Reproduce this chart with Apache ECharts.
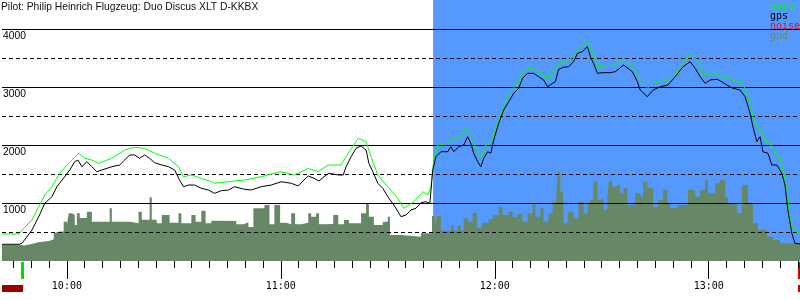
<!DOCTYPE html>
<html><head><meta charset="utf-8">
<script src="https://cdn.jsdelivr.net/npm/echarts@6/dist/echarts.min.js"></script>
<style>html,body{margin:0;padding:0;background:#fff}#c{width:800px;height:300px}</style>
</head><body><div id="c"></div><script>
// time values are minutes after midnight, altitudes in metres
const titleText = 'Pilot: Philip Heinrich Flugzeug: Duo Discus XLT D-KKBX';
const seriesNames = ['baro', 'gps', 'noise', 'gnd'];

const gpsTime = [581.8,586.6,587.4,590.2,592.1,593.8,595.8,597.2,599.1,600.8,602.2,603.1,604.2,605.6,607.0,608.4,609.8,612.6,614.8,616.2,617.6,619.0,620.4,621.8,623.2,624.6,626.6,628.5,630.2,631.6,632.7,634.1,635.8,637.7,639.7,641.4,643.3,645.3,647.0,649.8,651.7,654.5,657.3,660.1,662.9,664.9,666.5,667.7,669.3,670.7,672.1,673.5,676.1,677.5,678.3,679.7,681.1,682.5,683.9,684.7,685.8,687.2,688.6,690.0,691.7,693.7,695.1,696.5,697.9,699.3,700.7,701.8,702.6,703.5,704.9,706.8,707.7,708.5,709.9,711.3,712.4,713.3,714.1,715.2,716.1,716.9,718.0,718.9,719.7,721.1,722.5,723.9,725.3,726.7,727.8,729.2,730.9,732.3,733.7,734.8,736.2,737.0,737.9,739.3,740.7,742.1,743.2,744.6,745.4,746.0,746.8,747.7,748.8,750.2,752.4,753.8,756.1,758.6,760.0,760.8,762.8,764.4,766.4,768.6,770.6,772.8,774.8,776.2,777.6,779.0,780.4,782.3,783.7,785.1,786.8,788.8,790.2,791.6,792.4,793.5,794.4,795.2,796.6,797.7,799.1,800.5,801.4,802.2,803.3,804.2,805.6];
const gpsAlt = [288,288,305,534,764,995,1109,1281,1431,1569,1712,1741,1626,1712,1626,1540,1569,1626,1655,1741,1828,1828,1771,1828,1771,1695,1655,1626,1569,1397,1281,1310,1310,1253,1224,1167,1212,1224,1281,1236,1224,1281,1310,1367,1340,1293,1397,1466,1426,1379,1453,1512,1483,1483,1626,1798,1943,1983,1914,1684,1540,1340,1253,1109,966,764,793,879,909,1005,1022,995,1569,1798,1884,1884,1971,1884,1971,2000,2143,2029,1857,1712,1626,1771,1884,1857,2086,2374,2603,2747,2891,2978,3150,3236,3236,3178,3121,3005,3064,3091,3305,3340,3350,3436,3581,3609,3667,3695,3522,3409,3236,3247,3247,3264,3379,3264,3091,2948,2833,2948,3005,3034,3178,3350,3436,3322,3178,3064,3121,3133,3091,3034,2978,2948,2833,2547,2316,2057,2143,1884,1857,1655,1655,1512,1310,879,478,305,293];

const baroTime = [581.8,586.6,587.4,590.2,592.1,593.8,595.8,598.0,600.5,602.2,603.3,605.0,607.0,608.9,612.6,616.2,619.0,621.8,624.6,628.5,631.3,632.7,635.0,637.7,640.5,641.4,645.3,649.8,654.5,660.1,663.8,667.7,670.5,673.3,676.9,678.9,681.7,683.9,685.3,687.2,690.0,692.8,694.5,697.3,699.8,701.2,702.1,702.9,704.0,706.8,707.7,709.6,711.9,713.3,715.2,716.1,717.5,718.9,720.8,722.5,724.4,726.4,728.1,730.0,732.3,733.7,735.6,737.9,740.4,742.1,743.5,746.0,747.4,748.8,750.5,753.3,756.1,758.8,761.4,762.8,764.4,768.4,771.2,773.4,775.1,776.8,778.4,781.2,784.0,786.8,789.6,791.0,792.4,793.8,794.9,795.8,797.2,798.6,800.0,800.8,801.9,802.5,803.6,804.4,805.6];
const baroAlt = [466,466,534,707,936,1138,1281,1512,1684,1793,1857,1771,1741,1684,1771,1914,1960,1943,1857,1771,1626,1453,1483,1426,1367,1340,1367,1397,1453,1540,1483,1598,1540,1655,1655,1857,2116,2057,1798,1483,1281,1081,909,1022,1195,1138,1281,1741,2000,2029,2116,2086,2288,2143,1884,1771,2000,2029,2402,2690,2919,3064,3293,3322,3293,3178,3178,3409,3453,3522,3667,3781,3581,3350,3362,3379,3478,3350,3064,2978,3064,3121,3264,3466,3569,3466,3207,3236,3178,3121,3064,2833,2488,2288,2259,2057,2029,1857,1798,1569,1281,879,534,505,488];

const gndTime = [581.8,587.4,588.0,589.4,591.0,592.4,593.8,595.2,596.3,596.6,598.0,599.1,600.0,600.5,601.4,602.2,602.8,603.6,605.6,607.0,612.0,612.6,617.6,620.1,621.0,623.2,623.8,625.2,626.6,628.8,631.3,632.1,634.9,636.1,637.7,638.9,640.5,641.9,647.5,649.5,650.9,652.3,655.4,656.8,658.2,659.8,661.5,662.9,664.0,665.7,667.7,668.5,669.9,670.7,672.1,674.7,676.1,677.7,679.1,682.5,683.9,684.7,686.1,688.6,690.0,690.6,693.7,699.3,702.4,703.2,703.7,704.9,707.7,708.5,709.6,710.5,711.3,712.4,713.8,715.0,716.3,718.3,719.4,721.1,722.2,723.9,725.0,726.4,727.8,729.2,730.6,731.4,732.8,733.7,735.1,736.2,737.3,737.6,738.4,739.0,739.3,740.4,742.1,743.5,744.9,746.0,746.8,747.7,748.8,749.6,750.5,751.6,751.9,753.0,753.8,755.2,756.1,757.2,759.4,760.8,761.6,762.8,764.4,765.8,767.2,768.4,769.2,771.2,774.2,776.2,777.6,779.0,779.8,781.8,783.2,784.6,785.4,787.9,789.3,791.0,792.4,793.8,796.3,798.0,800.0,805.6];
const gndAlt = [276,268,284,305,328,336,350,374,478,507,509,678,621,822,793,621,822,741,850,678,908,678,650,850,712,1098,712,650,793,661,822,650,793,678,867,650,695,690,633,667,586,908,966,633,966,660,633,822,633,660,822,764,822,633,638,793,633,707,650,822,983,764,621,678,764,448,419,477,776,546,776,522,621,522,609,517,736,678,828,564,660,719,793,937,793,850,759,810,678,822,995,764,908,678,822,1017,1190,1534,1190,1534,650,850,736,1017,822,1017,1052,1367,1052,1081,879,1109,1367,1281,1310,1167,1253,966,1167,1109,1367,1253,937,1052,1224,995,908,966,1224,1109,1224,1397,1167,1340,1397,1109,995,822,1310,995,650,534,419,362,305,305];

const noiseAlt = [];

const xMin = 581.8, xMax = 805.6;          // 9:41.8 .. 13:25.6
const taskStartTime = 702.7;               // shaded task section start
const takeoffTime = 587.4, landingTime = 805.2;
const hourTicks = [600, 660, 720, 780];
const hourLabels = ['10:00', '11:00', '12:00', '13:00'];
const yLabelValues = [1000, 2000, 3000, 4000];
const minorStep = 5;

const zip = (t, a) => t.map((v, i) => [v, a[i]]);
const minorTicks = [];
for (let m = Math.ceil(xMin / minorStep) * minorStep; m <= xMax; m += minorStep) minorTicks.push(m);

const chart = echarts.init(document.getElementById('c'), null, {renderer: 'canvas'});
chart.setOption({
  animation: false,
  title: {text: titleText, left: 1, top: 2, padding: 0,
    textStyle: {fontFamily: 'Liberation Sans', fontSize: 10.3, fontWeight: 'normal', color: '#111'}},
  legend: {orient: 'vertical', left: 765, top: 1, padding: 0, itemGap: 0, itemWidth: 0, itemHeight: 10,
    icon: 'none', selectedMode: false,
    textStyle: {fontFamily: 'DejaVu Sans Mono', fontSize: 10, lineHeight: 10},
    data: [
      {name: seriesNames[0], textStyle: {color: '#00ff00'}},
      {name: seriesNames[1], textStyle: {color: '#000000'}},
      {name: seriesNames[2], textStyle: {color: '#ff0000'}},
      {name: seriesNames[3], textStyle: {color: '#668866'}}
    ]},
  grid: {left: 0, right: 0, top: 0, bottom: 39},
  xAxis: [
    {type: 'value', min: xMin, max: xMax, position: 'bottom',
      axisLine: {show: false}, splitLine: {show: false},
      axisTick: {show: true, customValues: hourTicks, length: 18, lineStyle: {color: '#000', width: 1}},
      axisLabel: {show: true, customValues: hourTicks, margin: 20,
        formatter: v => hourLabels[hourTicks.indexOf(v)] || '',
        fontFamily: 'DejaVu Sans Mono', fontSize: 10, color: '#000'}},
    {type: 'value', min: xMin, max: xMax, position: 'bottom',
      axisLine: {show: false}, splitLine: {show: false},
      axisTick: {show: true, customValues: minorTicks, length: 7, lineStyle: {color: '#000', width: 1}},
      axisLabel: {show: false}}
  ],
  yAxis: [
    {type: 'value', min: 0, max: 4500, interval: 1000, z: 2,
      axisLine: {show: false}, axisTick: {show: false},
      splitLine: {show: true, showMinLine: false, showMaxLine: false, lineStyle: {color: '#000', width: 1, type: 'solid'}},
      axisLabel: {show: true, inside: true, margin: 1, align: 'left', verticalAlign: 'top',
        formatter: v => yLabelValues.includes(v) ? String(v) : '',
        fontFamily: 'Liberation Sans', fontSize: 10.3, color: '#000', padding: [2, 0, 0, 0]}},
    {type: 'value', min: 0, max: 4500, interval: 500, z: 2,
      axisLine: {show: false}, axisTick: {show: false}, axisLabel: {show: false},
      splitLine: {show: true, showMinLine: false, showMaxLine: false, lineStyle: {color: '#000', width: 1, type: [4, 3]}}}
  ],
  series: [
    {type: 'line', name: 'task', data: [], z: 0, silent: true,
      markArea: {silent: true, z: 0, itemStyle: {color: '#5599ff', opacity: 1},
        data: [[{xAxis: taskStartTime}, {xAxis: xMax}]]}},
    {type: 'line', name: seriesNames[3], data: zip(gndTime, gndAlt), step: 'end', z: 1,
      symbol: 'none', silent: true, lineStyle: {width: 0}, itemStyle: {color: '#668866'},
      areaStyle: {color: '#668866', opacity: 1}},
    {type: 'line', name: seriesNames[2], data: noiseAlt, z: 3, symbol: 'none', itemStyle: {color: '#ff0000'}},
    {type: 'line', name: seriesNames[0], data: zip(baroTime, baroAlt), z: 3, symbol: 'none', silent: true,
      itemStyle: {color: '#00ff00'}, lineStyle: {color: '#00ff00', width: 1}},
    {type: 'line', name: seriesNames[1], data: zip(gpsTime, gpsAlt), z: 4, symbol: 'none', silent: true,
      itemStyle: {color: '#000'}, lineStyle: {color: '#000', width: 1}}
  ]
});

const px = t => chart.convertToPixel({xAxisIndex: 0}, t);
const axisY = chart.convertToPixel({yAxisIndex: 0}, 0);
const xT = px(takeoffTime), xL = px(landingTime), x0 = px(xMin), xE = px(xMax);
chart.setOption({graphic: [
  {type: 'rect', shape: {x: Math.round(xT) - 1, y: axisY + 1, width: 3, height: 17}, style: {fill: '#00dd00'}, silent: true},
  {type: 'rect', shape: {x: Math.round(xL) - 1, y: axisY + 1, width: 3, height: 17}, style: {fill: '#cc0000'}, silent: true},
  {type: 'rect', shape: {x: x0, y: axisY + 24, width: Math.round(xT) + 1 - x0, height: 7}, style: {fill: '#990000'}, silent: true},
  {type: 'rect', shape: {x: Math.round(xL) - 1, y: axisY + 24, width: xE - Math.round(xL) + 1, height: 7}, style: {fill: '#cc0000'}, silent: true}
]});
</script></body></html>
